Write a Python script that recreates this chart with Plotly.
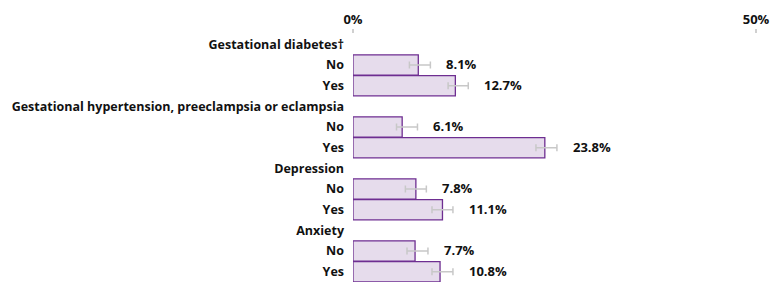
import plotly.graph_objects as go

labels = ["Gestational diabetes†", "No", "Yes",
          "Gestational hypertension, preeclampsia or eclampsia", "No", "Yes",
          "Depression", "No", "Yes",
          "Anxiety", "No", "Yes"]
values = [None, 8.1, 12.7, None, 6.1, 23.8, None, 7.8, 11.1, None, 7.7, 10.8]
ci_low = [None, 7.0, 11.8, None, 5.4, 22.7, None, 6.5, 9.8, None, 6.7, 9.8]
ci_high = [None, 9.6, 14.3, None, 8.0, 25.3, None, 9.1, 12.4, None, 9.3, 12.4]
x_ticks = [0, 50]
x_ticktext = ["0%", "50%"]

rows = list(range(len(labels)))
bx, by, eplus, eminus = [], [], [], []
for i, v in enumerate(values):
    if v is not None:
        bx.append(v)
        by.append(i)
        eplus.append(ci_high[i] - v)
        eminus.append(v - ci_low[i])

FONT = "Open Sans"
fig = go.Figure()
fig.add_trace(go.Bar(
    x=bx, y=by, orientation="h",
    marker=dict(color="#e6dcec", line=dict(color="#6e2e91", width=1.3)),
    error_x=dict(type="data", symmetric=False, array=eplus, arrayminus=eminus,
                 color="#c8c8c8", thickness=1.5, width=3.5),
    hoverinfo="skip",
))

for i, v in enumerate(values):
    if v is not None:
        fig.add_annotation(x=ci_high[i], y=i, text=f"{v:.1f}%", showarrow=False,
                           xanchor="left", xshift=14, yshift=1,
                           font=dict(family=FONT, size=13, color="#111", weight="bold"))

# the page body adds an 8px offset, so the figure is sized to fit the window
fig.update_layout(
    width=776, height=274,
    margin=dict(l=345, r=28, t=26, b=0),
    paper_bgcolor="white", plot_bgcolor="white",
    bargap=0.02, showlegend=False,
    font=dict(family=FONT, size=13, color="#111"),
)
fig.update_xaxes(
    side="top", range=[0, 50], tickvals=x_ticks, ticktext=x_ticktext,
    showgrid=True, gridcolor="#d0d0d0", gridwidth=1.5,
    ticks="outside", ticklen=4, tickcolor="#d0d0d0", tickwidth=1.5,
    zeroline=False, showline=False, automargin=False,
    tickfont=dict(family=FONT, size=13, color="#111", weight="bold"),
)
fig.update_yaxes(
    range=[len(labels) - 0.5, -0.5], tickvals=rows, ticktext=labels,
    showgrid=False, zeroline=False, showline=False, ticks="",
    ticklabelstandoff=8, automargin=False,
    tickfont=dict(family=FONT, size=12.5, color="#111", weight="bold"),
)

fig.write_html("out.html")
